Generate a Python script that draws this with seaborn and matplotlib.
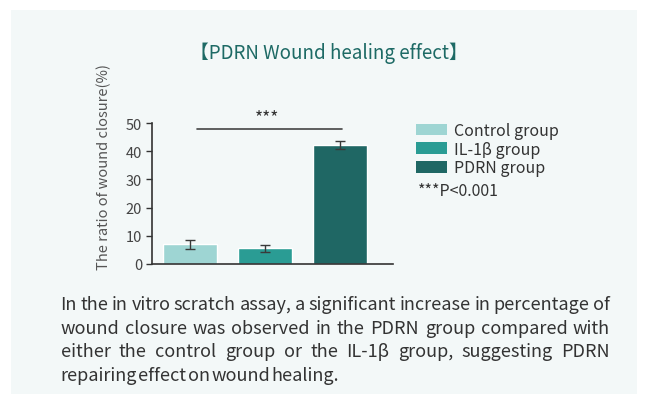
import matplotlib
matplotlib.use("Agg")
import matplotlib.pyplot as plt
from matplotlib.patches import Rectangle, Patch
import seaborn as sns
import pandas as pd

groups = ["Control group", "IL-1β group", "PDRN group"]
values = [7.0, 5.6, 42.3]
errors = [1.6, 1.2, 1.4]
colors = ["#9ed5d3", "#2a9c94", "#1f6764"]
yticks = [0, 10, 20, 30, 40, 50]
title = "【PDRN Wound healing effect】"
ylabel = "The ratio of wound closure(%)"
sig_label = "***"
p_note = "***P<0.001"
paragraph_lines = [
    "In the in vitro scratch assay, a significant increase in percentage of",
    "wound closure was observed in the PDRN group compared with",
    "either the control group or the IL-1β group, suggesting PDRN",
    "repairing effect on wound healing.",
]

sns.set_theme(style="white")
FONT = ["Noto Sans CJK SC", "DejaVu Sans"]
plt.rcParams["font.family"] = FONT

W, H = 647, 406
fig = plt.figure(figsize=(W / 100, H / 100), dpi=100)
fig.patch.set_facecolor("white")

def fx(px):
    return px / W

def fy(py):
    return 1 - py / H

# background panel
fig.patches.append(Rectangle((fx(11), fy(395)), fx(626), (395 - 11) / H,
                             transform=fig.transFigure, facecolor="#f3f8f8",
                             edgecolor="none", zorder=-10))

ax = fig.add_axes([fx(152), fy(265), fx(393 - 152), (265 - 124) / H])
ax.set_facecolor("none")
ax.set_zorder(5)

df = pd.DataFrame({"group": groups, "value": values})
sns.barplot(data=df, x="group", y="value", hue="group", palette=colors,
            order=groups, hue_order=groups, width=0.72, ax=ax,
            legend=False, errorbar=None, saturation=1)
ax.errorbar(range(len(groups)), values, yerr=errors, fmt="none",
            ecolor="#3a3a3a", elinewidth=1.0, capsize=3.5, capthick=1.0)

ax.set_xlim(-0.5, 2.7)
ax.set_ylim(0, 50)
ax.set_yticks(yticks)
ax.set_yticklabels([str(t) for t in yticks], fontsize=10.5, color="#444444")
ax.set_xticks([])
ax.set_xlabel("")
ax.set_ylabel(ylabel, fontsize=10.5, color="#555555")
ax.yaxis.set_label_coords((111 - 152) / 241, (265 - 167.5) / 141)
ax.tick_params(axis="y", direction="out", length=4, width=1, color="#333333", pad=3, left=True)
for s in ["top", "right"]:
    ax.spines[s].set_visible(False)
for s in ["left", "bottom"]:
    ax.spines[s].set_color("#333333")
    ax.spines[s].set_linewidth(1.2)

# significance bracket
ax.plot([0.1, 2.02], [47.8, 47.8], color="#444444", lw=1.2, clip_on=False)
ax.text(1.03, 49.0, sig_label, ha="center", va="bottom", fontsize=12.5, color="#333333")

# title
fig.text(fx(329), fy(53), title, ha="center", va="center", fontsize=13.5,
         color="#1d6a65", fontweight="medium")

# legend
handles = [Patch(facecolor=c, edgecolor="none") for c in colors]
leg = fig.legend(handles, groups, loc="upper left",
                 bbox_to_anchor=(fx(405), fy(112)), frameon=False,
                 fontsize=11.5, handlelength=1.9, handleheight=0.75,
                 handletextpad=0.45, labelspacing=0.1, borderpad=0.2)
for t in leg.get_texts():
    t.set_color("#333333")
fig.text(fx(418), fy(191), p_note, ha="left", va="center", fontsize=11.5, color="#333333")

# justified paragraph
left_px, right_px = 60.5, 610.0
baselines = [310, 334, 357.5, 381]
fig.canvas.draw()
renderer = fig.canvas.get_renderer()
fs = 13
for i, line in enumerate(paragraph_lines):
    y = fy(baselines[i])
    words = line.split(" ")
    txts = [fig.text(0, y, w, ha="left", va="baseline", fontsize=fs, color="#333333") for w in words]
    widths = [t.get_window_extent(renderer).width for t in txts]
    if i == len(paragraph_lines) - 1:
        gap = 1.5
    else:
        gap = (right_px - left_px - sum(widths)) / (len(words) - 1)
    x = left_px
    for t, w in zip(txts, widths):
        t.set_x(fx(x))
        x += w + gap

fig.savefig("out.png", dpi=100, facecolor="white")
